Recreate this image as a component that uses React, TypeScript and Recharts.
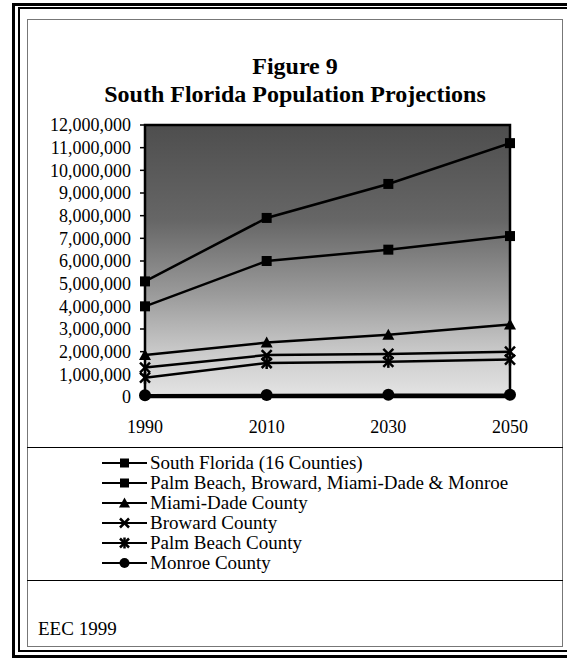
import React from 'react';
import { LineChart, Line, XAxis, YAxis, ReferenceArea } from 'recharts';

const years = ['1990', '2010', '2030', '2050'];
const southFlorida = [5100000, 7900000, 9400000, 11200000];
const fourCounties = [4000000, 6000000, 6500000, 7100000];
const miamiDade = [1850000, 2400000, 2750000, 3200000];
const broward = [1300000, 1850000, 1900000, 2000000];
const palmBeach = [850000, 1500000, 1550000, 1650000];
const monroe = [80000, 90000, 95000, 100000];
const yTicks = [0, 1000000, 2000000, 3000000, 4000000, 5000000, 6000000, 7000000, 8000000, 9000000, 10000000, 11000000, 12000000];

const seriesNames = [
  'South Florida (16 Counties)',
  'Palm Beach, Broward, Miami-Dade & Monroe',
  'Miami-Dade County',
  'Broward County',
  'Palm Beach County',
  'Monroe County',
];
const seriesKeys = ['sf', 'four', 'md', 'bw', 'pb', 'mo'];
const seriesKinds = ['square', 'square', 'triangle', 'x', 'star', 'circle'];

const data = years.map((y, i) => ({
  year: y,
  sf: southFlorida[i],
  four: fourCounties[i],
  md: miamiDade[i],
  bw: broward[i],
  pb: palmBeach[i],
  mo: monroe[i],
}));

const SERIF = '"Liberation Serif", "Times New Roman", serif';

function Marker({ cx, cy, kind, s }: { cx: number; cy: number; kind: string; s: number }) {
  if (cx == null || cy == null) return null;
  const h = s / 2;
  switch (kind) {
    case 'square':
      return <rect x={cx - h} y={cy - h} width={s} height={s} fill="#000" />;
    case 'triangle':
      return <path d={`M${cx},${cy - h - 1} L${cx + h + 1},${cy + h} L${cx - h - 1},${cy + h} Z`} fill="#000" />;
    case 'x':
      return (
        <g stroke="#000" strokeWidth={2.5}>
          <line x1={cx - h} y1={cy - h} x2={cx + h} y2={cy + h} />
          <line x1={cx - h} y1={cy + h} x2={cx + h} y2={cy - h} />
        </g>
      );
    case 'star':
      return (
        <g stroke="#000" strokeWidth={2.5}>
          <line x1={cx - h} y1={cy - h} x2={cx + h} y2={cy + h} />
          <line x1={cx - h} y1={cy + h} x2={cx + h} y2={cy - h} />
          <line x1={cx} y1={cy - h - 1} x2={cx} y2={cy + h + 1} />
        </g>
      );
    case 'circle':
      return <circle cx={cx} cy={cy} r={h + 0.5} fill="#000" />;
    default:
      return null;
  }
}

const fmt = (v: number) => v.toLocaleString('en-US');

export default function App() {
  return (
    <div
      style={{
        position: 'absolute',
        left: 0,
        top: 0,
        width: 567,
        height: 667,
        overflow: 'hidden',
        background: '#fff',
        fontFamily: SERIF,
      }}
    >
      <svg width={0} height={0} style={{ position: 'absolute' }}>
        <defs>
          <linearGradient id="plotBg" x1="0" y1="0" x2="0" y2="1">
            <stop offset="0%" stopColor="#4e4e4e" />
            <stop offset="35%" stopColor="#666" />
            <stop offset="62%" stopColor="#9a9a9a" />
            <stop offset="85%" stopColor="#cdcdcd" />
            <stop offset="100%" stopColor="#e4e4e4" />
          </linearGradient>
        </defs>
      </svg>

      {/* outer double frame */}
      <div
        style={{
          position: 'absolute',
          left: 12,
          top: 3,
          width: 600,
          height: 649,
          borderLeft: '3px solid #000',
          borderTop: '3px solid #000',
          borderBottom: '3px solid #000',
        }}
      />
      <div
        style={{
          position: 'absolute',
          left: 18,
          top: 7,
          width: 600,
          height: 641,
          borderLeft: '2px solid #000',
          borderTop: '2px solid #000',
          borderBottom: '2px solid #000',
        }}
      />
      {/* inner box */}
      <div
        style={{
          position: 'absolute',
          left: 27,
          top: 19,
          width: 534,
          height: 626,
          border: '1px solid #777',
        }}
      />

      {/* title */}
      <div
        style={{
          position: 'absolute',
          left: 27,
          width: 536,
          top: 52,
          textAlign: 'center',
          fontSize: 24,
          fontWeight: 'bold',
          lineHeight: '28px',
          color: '#000',
        }}
      >
        <div>Figure 9</div>
        <div>South Florida Population Projections</div>
      </div>

      <div style={{ position: 'absolute', left: 0, top: 0 }}>
        <LineChart
          width={567}
          height={440}
          data={data}
          margin={{ top: 125, right: 57, bottom: 13, left: 45 }}
        >
          <ReferenceArea
            x1="1990"
            x2="2050"
            y1={0}
            y2={12000000}
            fill="url(#plotBg)"
            fillOpacity={1}
            stroke="#000"
            strokeWidth={2.5}
            ifOverflow="visible"
          />
          <XAxis
            dataKey="year"
            axisLine={false}
            tickLine={false}
            tickSize={6}
            tickMargin={17}
            height={30}
            tick={{ fill: '#000', fontSize: 18, fontFamily: SERIF }}
            interval={0}
          />
          <YAxis
            domain={[0, 12000000]}
            ticks={yTicks}
            width={100}
            axisLine={false}
            tickLine={{ stroke: '#000', strokeWidth: 1.5 }}
            tickSize={5}
            tickMargin={9}
            tickFormatter={fmt}
            interval={0}
            tick={{ fill: '#000', fontSize: 18, fontFamily: SERIF }}
          />
          {seriesKeys.map((k, i) => (
            <Line
              key={k}
              dataKey={k}
              name={seriesNames[i]}
              stroke="#000"
              strokeWidth={2.5}
              isAnimationActive={false}
              dot={(p: any) => (
                <Marker key={`${k}-${p.index}`} cx={p.cx} cy={p.cy} kind={seriesKinds[i]} s={seriesKinds[i] === 'circle' ? 11 : 10} />
              )}
              activeDot={false}
            />
          ))}
        </LineChart>
      </div>

      {/* separators */}
      <div style={{ position: 'absolute', left: 27, top: 447, width: 536, height: 1, background: '#000' }} />
      <div style={{ position: 'absolute', left: 27, top: 580, width: 536, height: 1, background: '#000' }} />

      {/* legend */}
      <div style={{ position: 'absolute', left: 100, top: 453 }}>
        {seriesNames.map((n, i) => (
          <div key={n} style={{ display: 'flex', alignItems: 'center', height: 20 }}>
            <svg width={50} height={20} style={{ display: 'block' }}>
              <line x1={2} y1={10} x2={47} y2={10} stroke="#000" strokeWidth={2} />
              <Marker cx={24.5} cy={10} kind={seriesKinds[i]} s={9} />
            </svg>
            <span style={{ fontSize: 19, lineHeight: '20px', color: '#000', whiteSpace: 'nowrap' }}>{n}</span>
          </div>
        ))}
      </div>

      {/* source */}
      <div style={{ position: 'absolute', left: 38, top: 618, fontSize: 19, lineHeight: '22px', color: '#000' }}>
        EEC 1999
      </div>
    </div>
  );
}
